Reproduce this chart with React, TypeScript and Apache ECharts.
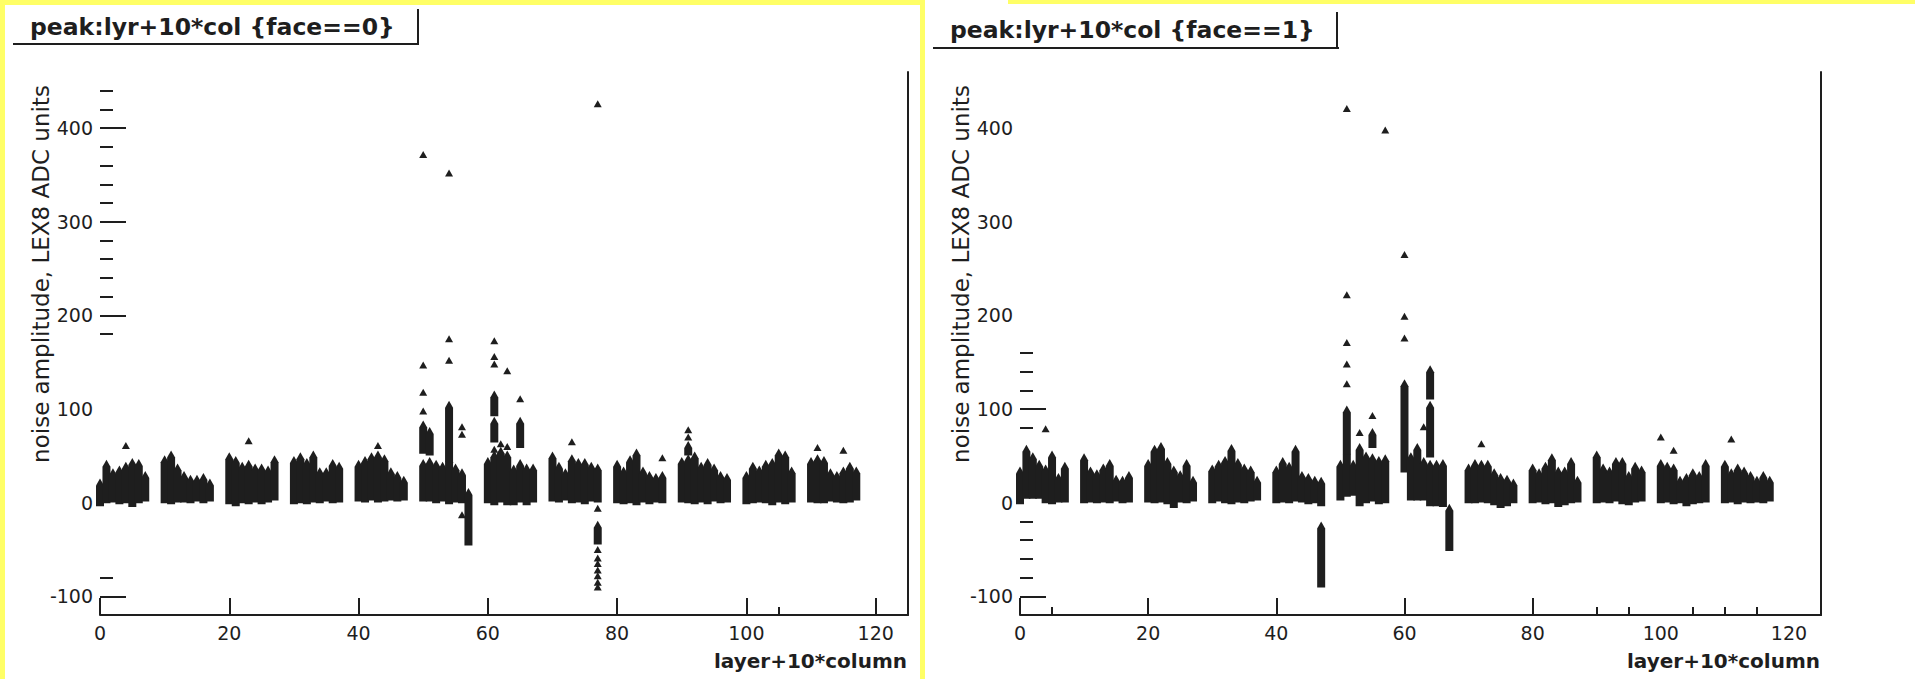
import React, { useEffect, useRef } from "react";
import * as echarts from "echarts";

// ---- axes ----
const X_MIN = 0;
const X_MAX = 125;
const Y_MIN = -120;
const Y_MAX = 460;
const xLabelValues = [0, 20, 40, 60, 80, 100, 120];
const yLabelValues = [-100, 0, 100, 200, 300, 400];

const leftXMajor = [0, 20, 40, 60, 80, 100, 120];
const leftXMinor = [105];
const rightXMajor = [0, 20, 40, 60, 80];
const rightXMinor = [5, 90, 95, 105, 110, 115];
const leftYMajor = [400, 300, 200, -100];
const leftYMinor = [440, 420, 380, 360, 340, 320, 280, 260, 240, 220, 180, -80];
const rightYMajor = [100, -100];
const rightYMinor = [160, 140, 120, 80, -20, -40, -60, -80];

const titles = ["peak:lyr+10*col {face==0}", "peak:lyr+10*col {face==1}"];
const xTitle = "layer+10*column";
const yTitle = "noise amplitude, LEX8 ADC units";

// ---- face 0: dense runs of markers [x, low, high] ----
const face0Runs = [
  [0, 0, 22], [1, 3, 42], [2, 4, 33], [3, 2, 36], [4, 3, 40], [5, -1, 44], [6, 3, 43], [7, 5, 30],
  [10, 3, 47], [11, 2, 52], [12, 4, 38], [13, 4, 30], [14, 3, 26], [15, 5, 26], [16, 3, 28], [17, 5, 22],
  [20, 2, 50], [21, 0, 46], [22, 3, 40], [23, 2, 42], [24, 4, 38], [25, 2, 38], [26, 4, 36], [27, 6, 47],
  [30, 2, 46], [31, 3, 50], [32, 2, 44], [33, 4, 52], [34, 3, 34], [35, 5, 34], [36, 3, 43], [37, 4, 40],
  [40, 5, 42], [41, 4, 46], [42, 6, 50], [43, 4, 52], [44, 5, 48], [45, 6, 34], [46, 5, 30], [47, 6, 25],
  [50, 5, 43], [50, 56, 84], [51, 5, 45], [51, 54, 77], [52, 3, 42], [53, 5, 40], [54, 2, 47], [54, 47, 105],
  [55, 4, 38], [56, 3, 33], [57, -42, 12],
  [60, 3, 45], [61, 1, 52], [61, 68, 88], [61, 96, 116], [62, 4, 56], [63, 1, 52], [64, 1, 37], [65, 4, 43],
  [65, 62, 88], [66, 1, 38], [67, 4, 38],
  [70, 5, 51], [71, 4, 40], [72, 6, 33], [73, 3, 48], [74, 4, 44], [75, 2, 44], [76, 5, 40], [77, 4, 38], [77, -41, -23],
  [80, 3, 42], [81, 2, 35], [82, 3, 47], [83, 1, 54], [84, 4, 35], [85, 2, 30], [86, 4, 28], [87, 3, 30],
  [90, 4, 45], [91, 3, 48], [91, 54, 62], [92, 2, 51], [93, 4, 40], [94, 2, 44], [95, 5, 38], [96, 3, 30], [97, 4, 28],
  [100, 2, 30], [101, 3, 40], [102, 4, 36], [103, 3, 42], [104, 1, 44], [105, 4, 54], [106, 2, 52], [107, 4, 35],
  [110, 4, 45], [111, 3, 48], [112, 3, 46], [113, 5, 33], [114, 4, 30], [115, 3, 35], [116, 4, 40], [117, 6, 35],
];
// face 0: isolated markers [x, y]
const face0Points = [
  [4, 61], [23, 66], [43, 61], [50, 372], [50, 147], [50, 118], [50, 98], [54, 352], [54, 175], [54, 152],
  [56, 81], [56, 73], [56, -13], [61, 173], [61, 156], [61, 148], [61, 57], [62, 63], [63, 141], [63, 60],
  [65, 111], [73, 65], [77, 426], [77, -6], [77, -50], [77, -59], [77, -65], [77, -72], [77, -78], [77, -85],
  [77, -90], [87, 48], [91, 70], [91, 78], [111, 59], [115, 56],
];

// ---- face 1 ----
const face1Runs = [
  [0, 2, 35], [1, 8, 58], [2, 8, 50], [3, 8, 42], [4, 3, 37], [5, 2, 52], [6, 4, 28], [7, 4, 40],
  [10, 3, 49], [11, 4, 35], [12, 3, 32], [13, 4, 38], [14, 3, 43], [15, 5, 26], [16, 3, 25], [17, 4, 30],
  [20, 4, 43], [21, 3, 58], [22, 4, 61], [23, 2, 45], [24, -2, 36], [25, 4, 31], [26, 3, 43], [27, 5, 25],
  [30, 3, 37], [31, 5, 42], [32, 3, 46], [33, 2, 59], [34, 4, 44], [35, 3, 38], [36, 5, 36], [37, 6, 25],
  [40, 3, 36], [41, 4, 45], [42, 3, 40], [43, 5, 58], [44, 4, 30], [45, 2, 28], [46, 3, 25], [47, 0, 24], [47, -87, -24],
  [50, 6, 42], [51, 10, 55], [51, 55, 100], [52, 11, 42], [53, 0, 60], [54, 3, 51], [55, 5, 49], [55, 62, 76],
  [56, 2, 46], [57, 3, 48],
  [60, 36, 128], [61, 6, 50], [62, 6, 60], [63, 6, 45], [64, 0, 42], [64, 52, 105], [64, 114, 143], [65, 0, 42],
  [66, -1, 43], [67, -48, -5],
  [70, 3, 38], [71, 3, 43], [72, 4, 42], [73, 3, 42], [74, 1, 33], [75, -2, 28], [76, 0, 26], [77, 3, 22],
  [80, 3, 38], [81, 4, 33], [82, 2, 40], [83, 3, 49], [84, -1, 35], [85, 1, 35], [86, 3, 45], [87, 4, 25],
  [90, 3, 52], [91, 4, 38], [92, 3, 35], [93, 5, 45], [94, 2, 45], [95, 1, 30], [96, 4, 40], [97, 5, 36],
  [100, 3, 43], [101, 4, 40], [102, 2, 38], [103, 3, 25], [104, 0, 28], [105, 2, 33], [106, 3, 30], [107, 4, 43],
  [110, 3, 42], [111, 4, 33], [112, 2, 38], [113, 4, 35], [114, 3, 30], [115, 4, 25], [116, 3, 30], [117, 5, 25],
];
const face1Points = [
  [4, 79], [51, 421], [51, 222], [51, 171], [51, 148], [51, 127], [53, 75], [55, 93], [57, 398],
  [60, 265], [60, 199], [60, 176], [63, 81], [72, 63], [100, 70], [102, 56], [111, 68],
];

const INK = "#1e1e1e";
const YELLOW = "#ffff66";
const FONT = "DejaVu Sans";

function buildOption() {
  const grids = [
    { left: 100, top: 72, width: 808, height: 543 },
    { left: 1020, top: 72, width: 801, height: 543 },
  ];
  const xMajor = [leftXMajor, rightXMajor];
  const xMinor = [leftXMinor, rightXMinor];
  const yMajor = [leftYMajor, rightYMajor];
  const yMinor = [leftYMinor, rightYMinor];
  const xAxis: any[] = [];
  const yAxis: any[] = [];
  for (let i = 0; i < 2; i++) {
    xAxis.push({
      gridIndex: i, type: "value", min: X_MIN, max: X_MAX, position: "bottom",
      axisLine: { show: true, onZero: false, lineStyle: { color: INK, width: 2 } },
      axisTick: { show: true, inside: true, length: 17, lineStyle: { color: INK, width: 2 }, customValues: xMajor[i] },
      axisLabel: { customValues: xLabelValues, color: INK, fontSize: 19, fontFamily: FONT, margin: 8 },
      splitLine: { show: false },
    });
    xAxis.push({
      gridIndex: i, type: "value", min: X_MIN, max: X_MAX, position: "bottom",
      axisLine: { show: false, onZero: false },
      axisTick: { show: true, inside: true, length: 8, lineStyle: { color: INK, width: 2 }, customValues: xMinor[i] },
      axisLabel: { show: false },
      splitLine: { show: false },
    });
    yAxis.push({
      gridIndex: i, type: "value", min: Y_MIN, max: Y_MAX, position: "left",
      axisLine: { show: false, onZero: false },
      axisTick: { show: true, inside: true, length: 26, lineStyle: { color: INK, width: 2 }, customValues: yMajor[i] },
      axisLabel: { customValues: yLabelValues, color: INK, fontSize: 19, fontFamily: FONT, margin: 7 },
      splitLine: { show: false },
    });
    yAxis.push({
      gridIndex: i, type: "value", min: Y_MIN, max: Y_MAX, position: "left",
      axisLine: { show: false, onZero: false },
      axisTick: { show: true, inside: true, length: 13, lineStyle: { color: INK, width: 2 }, customValues: yMinor[i] },
      axisLabel: { show: false },
      splitLine: { show: false },
    });
    yAxis.push({
      gridIndex: i, type: "value", min: Y_MIN, max: Y_MAX, position: "right",
      axisLine: { show: true, onZero: false, lineStyle: { color: INK, width: 2 } },
      axisTick: { show: false },
      axisLabel: { show: false },
      splitLine: { show: false },
    });
  }

  const runRender = (params: any, api: any) => {
    const x = api.value(0);
    const lo = api.value(1);
    const hi = api.value(2);
    const t = api.coord([x, hi]);
    const b = api.coord([x, lo]);
    const hw = 4;
    const hh = 3.5;
    return {
      type: "polygon",
      shape: {
        points: [
          [t[0], t[1] - hh],
          [t[0] + hw, t[1] + hh],
          [t[0] + hw, b[1] + hh],
          [t[0] - hw, b[1] + hh],
          [t[0] - hw, t[1] + hh],
        ],
      },
      style: { fill: INK },
    };
  };

  const runs = [face0Runs, face1Runs];
  const points = [face0Points, face1Points];
  const series: any[] = [];
  for (let i = 0; i < 2; i++) {
    series.push({
      type: "custom", xAxisIndex: i * 2, yAxisIndex: i * 3,
      data: runs[i], encode: { x: 0, y: [1, 2] },
      renderItem: runRender, silent: true,
    });
    series.push({
      type: "scatter", xAxisIndex: i * 2, yAxisIndex: i * 3,
      data: points[i], symbol: "triangle", symbolSize: [8, 7],
      itemStyle: { color: INK, opacity: 1 }, silent: true,
    });
  }

  const graphic: any[] = [
    { type: "rect", shape: { x: 0, y: 0, width: 5, height: 679 }, style: { fill: YELLOW }, silent: true },
    { type: "rect", shape: { x: 0, y: 0, width: 920, height: 5 }, style: { fill: YELLOW }, silent: true },
    { type: "rect", shape: { x: 920, y: 0, width: 5, height: 679 }, style: { fill: YELLOW }, silent: true },
    { type: "rect", shape: { x: 1008, y: 0, width: 907, height: 4 }, style: { fill: YELLOW }, silent: true },
    // title boxes
    { type: "text", style: { text: titles[0], x: 30, y: 27, font: `bold 23.5px "${FONT}"`, fill: INK, verticalAlign: "middle" } },
    { type: "line", shape: { x1: 13, y1: 44, x2: 419, y2: 44 }, style: { stroke: INK, lineWidth: 2 } },
    { type: "line", shape: { x1: 418, y1: 9, x2: 418, y2: 45 }, style: { stroke: INK, lineWidth: 2 } },
    { type: "text", style: { text: titles[1], x: 950, y: 30, font: `bold 23.5px "${FONT}"`, fill: INK, verticalAlign: "middle" } },
    { type: "line", shape: { x1: 933, y1: 48, x2: 1339, y2: 48 }, style: { stroke: INK, lineWidth: 2 } },
    { type: "line", shape: { x1: 1337, y1: 12, x2: 1337, y2: 49 }, style: { stroke: INK, lineWidth: 2 } },
    // axis titles
    { type: "text", style: { text: xTitle, x: 907, y: 661, font: `bold 20px "${FONT}"`, fill: INK, align: "right", verticalAlign: "middle" } },
    { type: "text", style: { text: xTitle, x: 1820, y: 661, font: `bold 20px "${FONT}"`, fill: INK, align: "right", verticalAlign: "middle" } },
    { type: "text", x: 41, y: 274, rotation: Math.PI / 2, style: { text: yTitle, x: 0, y: 0, font: `23px "${FONT}"`, fill: INK, align: "center", verticalAlign: "middle" } },
    { type: "text", x: 961, y: 274, rotation: Math.PI / 2, style: { text: yTitle, x: 0, y: 0, font: `23px "${FONT}"`, fill: INK, align: "center", verticalAlign: "middle" } },
  ];

  return {
    animation: false,
    backgroundColor: "#ffffff",
    grid: grids,
    xAxis,
    yAxis,
    series,
    graphic,
  };
}

export default function App() {
  const ref = useRef<HTMLDivElement>(null);
  useEffect(() => {
    if (!ref.current) return;
    const chart = echarts.init(ref.current, undefined, { renderer: "svg" });
    chart.setOption(buildOption() as any);
    return () => chart.dispose();
  }, []);
  return (
    <div
      ref={ref}
      style={{ position: "fixed", left: 0, top: 0, width: 1915, height: 679, background: "#fff" }}
    />
  );
}
